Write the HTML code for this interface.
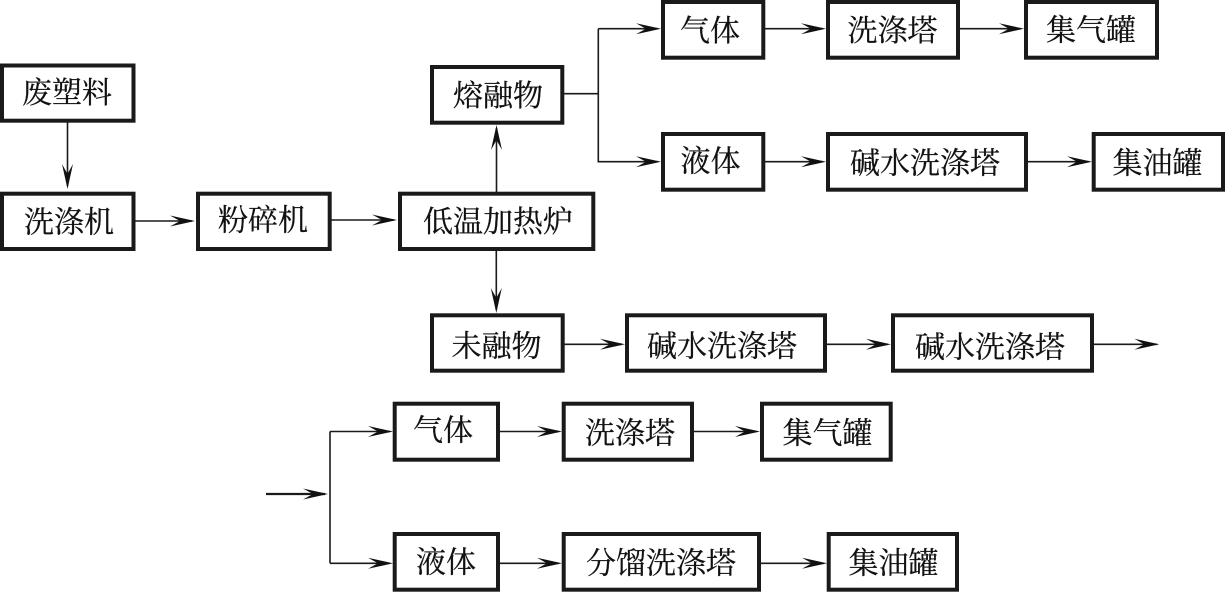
<!DOCTYPE html>
<html><head><meta charset="utf-8"><style>
html,body{margin:0;padding:0;background:#fff;width:1225px;height:592px;overflow:hidden}
svg{display:block}
rect{fill:#fff;stroke:#1a1a1a;stroke-width:4}
.l{fill:none;stroke:#1a1a1a;stroke-width:1.6}
.a{fill:#111;stroke:none}
text{font-family:"Liberation Serif","Noto Serif CJK SC",serif;font-size:30px;fill:#111;stroke:#111;stroke-width:.25;text-anchor:middle}
</style></head><body>
<svg width="1225" height="592" viewBox="0 0 1225 592" xmlns="http://www.w3.org/2000/svg">
<defs><path id="r" class="a" d="M0 0L-25 -5.500L-15 0L-25 5.500Z"/></defs>
<path class="l" d="M67.500 122V186M135 221H192M331 220H394M496.500 192V128M564 93.700H598.300M598.300 28.700H658M598.300 28.700V161.700H658M764 28.700H823M959 28.700H1021M764 161.700H823M1027 161.700H1089M496.300 250V310M564 344.300H622M826 344.300H888M1093 344.300H1157M330 431.500V563.300M330 431.500H390M330 563.300H390M499 431.500H559M694 431.500H757M499 563.300H559M760 563.300H824"/>
<path class="l" style="stroke-width:2.200" d="M266 494H325"/>
<use href="#r" transform="translate(67.500 189) rotate(90)"/>
<use href="#r" transform="translate(195 221)"/>
<use href="#r" transform="translate(397 220)"/>
<use href="#r" transform="translate(496.500 125) rotate(-90)"/>
<use href="#r" transform="translate(661 28.700)"/>
<use href="#r" transform="translate(661 161.700)"/>
<use href="#r" transform="translate(826 28.700)"/>
<use href="#r" transform="translate(1024 28.700)"/>
<use href="#r" transform="translate(826 161.700)"/>
<use href="#r" transform="translate(1092 161.700)"/>
<use href="#r" transform="translate(496.300 313) rotate(90)"/>
<use href="#r" transform="translate(625 344.300)"/>
<use href="#r" transform="translate(891 344.300)"/>
<use href="#r" transform="translate(1159.300 344.300)"/>
<use href="#r" transform="translate(328 494)"/>
<use href="#r" transform="translate(393 431.500)"/>
<use href="#r" transform="translate(393 563.300)"/>
<use href="#r" transform="translate(562 431.500)"/>
<use href="#r" transform="translate(760 431.500)"/>
<use href="#r" transform="translate(562 563.300)"/>
<use href="#r" transform="translate(827 563.300)"/>

<rect x="2" y="65.500" width="131.500" height="55.200"/>
<rect x="2" y="193.700" width="131.500" height="55.300"/>
<rect x="198" y="193.700" width="131.700" height="55.300"/>
<rect x="400" y="193.700" width="193.300" height="55.300"/>
<rect x="432" y="67" width="130.300" height="55.700"/>
<rect x="663" y="2" width="100.300" height="55.700"/>
<rect x="828" y="2" width="130" height="55.700"/>
<rect x="1026" y="2" width="131" height="55.700"/>
<rect x="663" y="134" width="100.300" height="55.700"/>
<rect x="828" y="134" width="198" height="55.700"/>
<rect x="1093.700" y="134" width="129.300" height="55.700"/>
<rect x="432" y="315.300" width="130.700" height="55.400"/>
<rect x="627" y="315.300" width="198" height="55.400"/>
<rect x="893" y="315.300" width="199" height="55.400"/>
<rect x="394.700" y="403.700" width="103.300" height="56"/>
<rect x="563.700" y="403.700" width="128.300" height="56"/>
<rect x="762" y="403.700" width="128.700" height="56"/>
<rect x="394.700" y="534" width="103.300" height="55.700"/>
<rect x="563.700" y="534" width="195.300" height="55.700"/>
<rect x="828.700" y="534" width="128.300" height="55.700"/>

<text x="67" y="103">废塑料</text>
<text x="69" y="232.500">洗涤机</text>
<text x="263" y="230.500">粉碎机</text>
<text x="498" y="232">低温加热炉</text>
<text x="498" y="106">熔融物</text>
<text x="710" y="41">气体</text>
<text x="892.500" y="41">洗涤塔</text>
<text x="1091" y="40.500">集气罐</text>
<text x="710.500" y="171.500">液体</text>
<text x="925" y="173.500">碱水洗涤塔</text>
<text x="1157.500" y="173.500">集油罐</text>
<text x="496.500" y="356.500">未融物</text>
<text x="722" y="356.500">碱水洗涤塔</text>
<text x="990" y="357.500">碱水洗涤塔</text>
<text x="443" y="440.500">气体</text>
<text x="630" y="443.500">洗涤塔</text>
<text x="827.500" y="443.500">集气罐</text>
<text x="446" y="572.500">液体</text>
<text x="661" y="573.500">分馏洗涤塔</text>
<text x="893.500" y="573.500">集油罐</text>
</svg>
</body></html>
